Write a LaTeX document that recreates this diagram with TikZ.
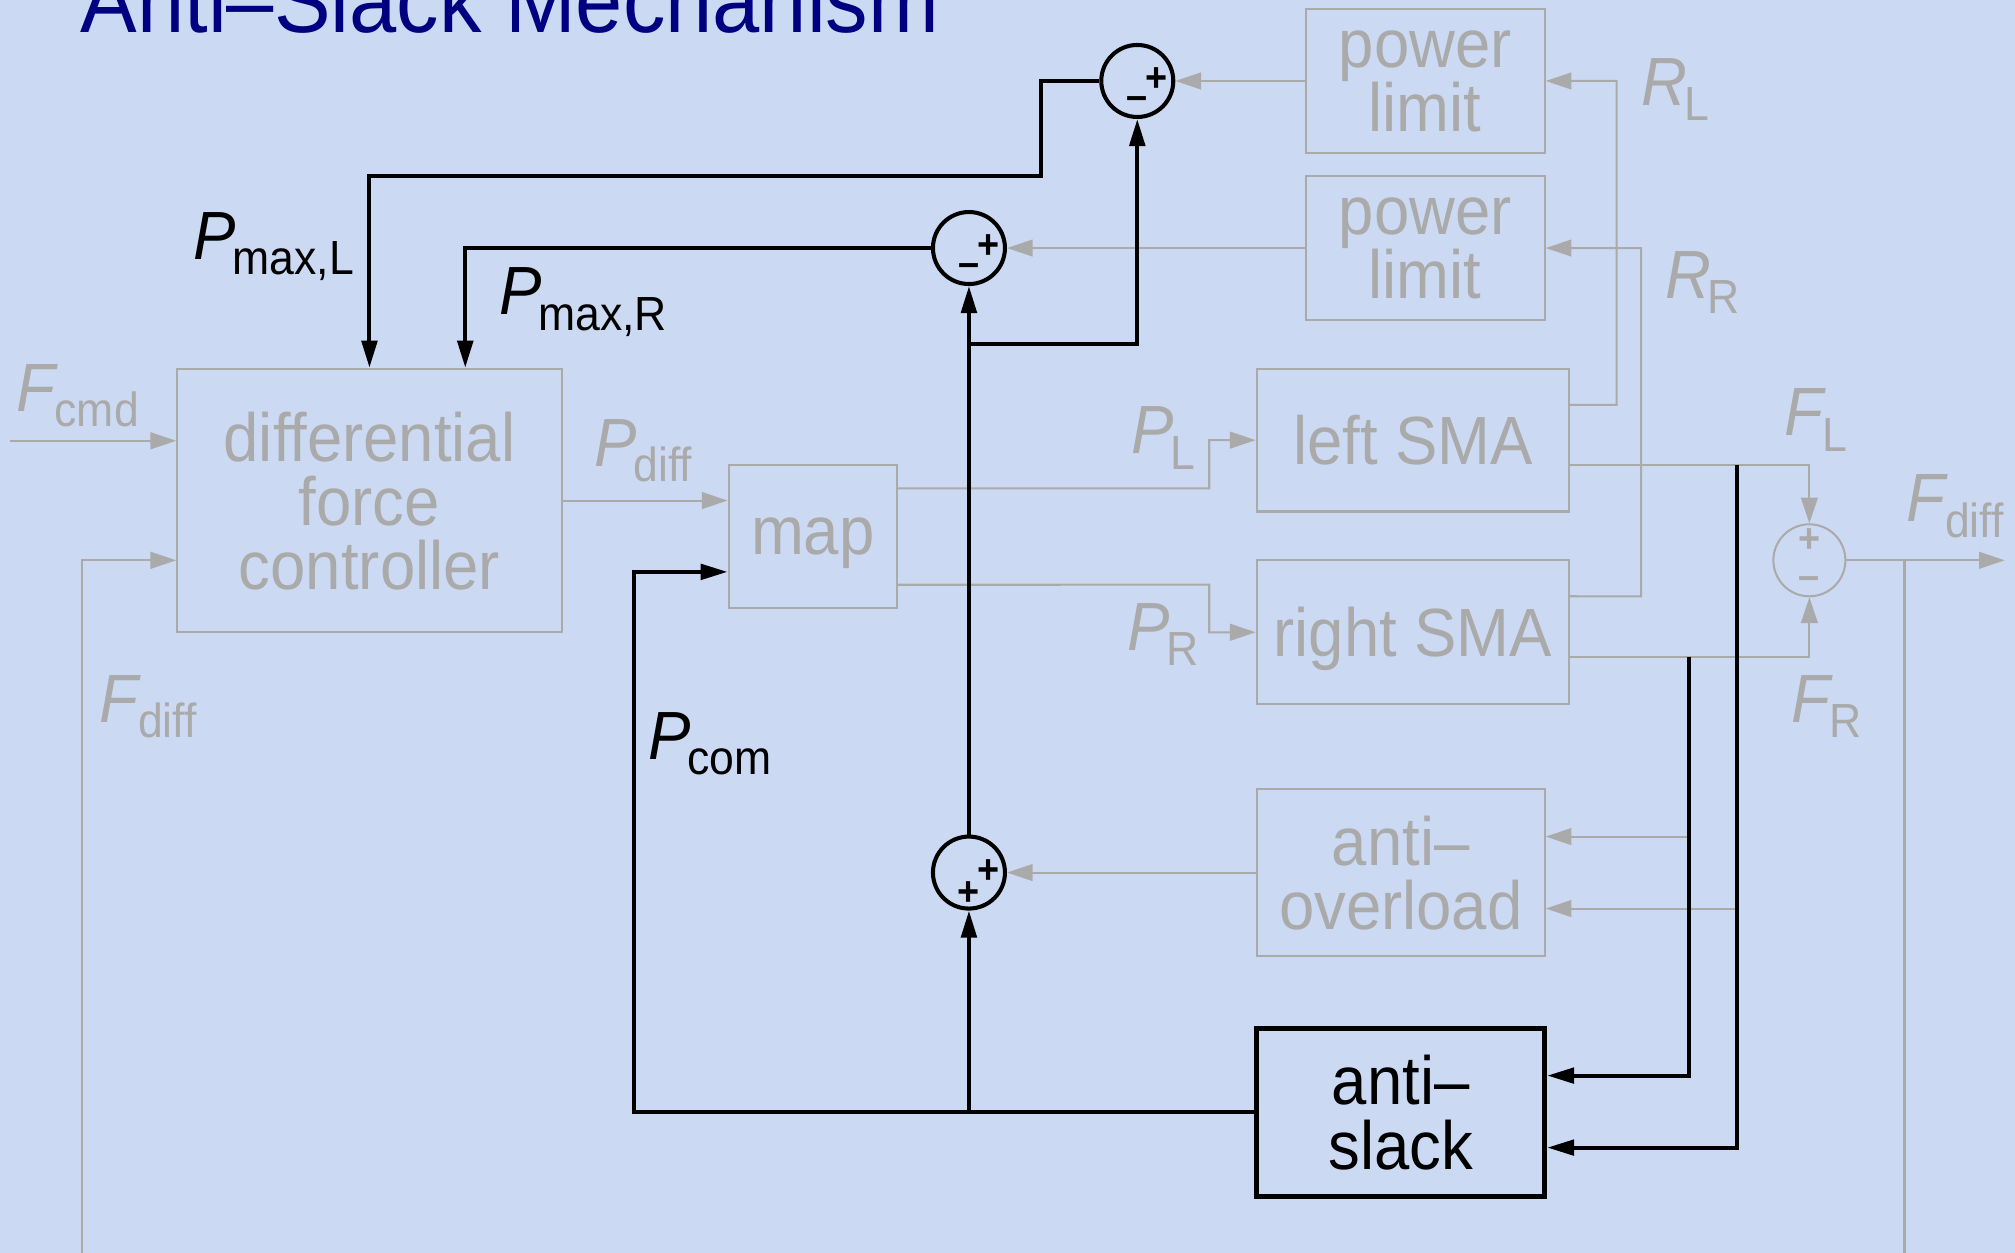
\documentclass[tikz,border=0pt]{standalone}
\usepackage{fontspec}
\setmainfont{Liberation Sans}[FakeStretch=0.93]
\usetikzlibrary{arrows.meta,calc}
\definecolor{bg}{RGB}{203,218,242}
\definecolor{gl}{RGB}{170,170,170}
\definecolor{navy}{RGB}{0,0,128}
\newcommand{\sublab}[2]{\textit{#1}\kern-0.05em\raisebox{-3.4pt}{\fontsize{10.6pt}{10.6pt}\selectfont #2}}
\begin{document}
\begin{tikzpicture}[x=0.01cm,y=-0.01cm,
 txt/.style={font=\fontsize{15.1pt}{14.2pt}\selectfont, align=center, text depth=0pt},
 gbox/.style={draw=gl, text=gl, line width=0.45pt, txt, inner sep=0},
 kbox/.style={draw=black, text=black, line width=1.1pt, txt, inner sep=0},
 sumk/.style={circle, draw=black, line width=0.9pt, minimum size=0.56cm, inner sep=0},
 sumg/.style={circle, draw=gl, line width=0.45pt, minimum size=0.56cm, inner sep=0},
 sgnk/.style={font=\fontsize{9pt}{9pt}\selectfont\bfseries, text=black, inner sep=0},
 sgng/.style={font=\fontsize{9pt}{9pt}\selectfont\bfseries, text=gl, inner sep=0},
 gy/.style={draw=gl, line width=0.45pt},
 gya/.style={gy, -{Triangle[length=0.2cm,width=0.13cm]}},
 bk/.style={draw=black, line width=0.9pt},
 bka/.style={bk, -{Triangle[length=0.21cm,width=0.12cm]}},
 lab/.style={anchor=base west, inner sep=0, font=\fontsize{15.1pt}{15.1pt}\selectfont},
 glab/.style={lab, text=gl},
 klab/.style={lab, text=black},
]
\useasboundingbox (0,0) rectangle (1568,975);
\clip (0,0) rectangle (1568,975);
\fill[bg] (0,0) rectangle (1568,975);

% title
\node[anchor=base west, inner sep=0, text=navy, font=\fontsize{20.2pt}{20.2pt}\selectfont] (title) at (62,25) {Anti–Slack Mechanism};

% boxes
\node[gbox, minimum width=2.99cm, minimum height=2.05cm] (dfc) at (287.5,389.5) {differential\\force\\controller};
\node[gbox, minimum width=1.31cm, minimum height=1.11cm] (map) at (632.5,417.5) {map};
\node[gbox, minimum width=1.86cm, minimum height=1.12cm] (pl1) at (1109,63) {power\\limit};
\node[gbox, minimum width=1.86cm, minimum height=1.12cm] (pl2) at (1109,193) {power\\limit};
\node[gbox, minimum width=2.43cm, minimum height=1.11cm] (lsma) at (1099.5,342.5) {left SMA};
\node[gbox, minimum width=2.43cm, minimum height=1.12cm] (rsma) at (1099.5,492) {right SMA};
\node[gbox, minimum width=2.24cm, minimum height=1.30cm] (ao) at (1090,679) {anti–\\overload};
\node[kbox, minimum width=2.24cm, minimum height=1.31cm] (as) at (1090,865.5) {anti–\\slack};

% summing junctions
\node[sumk] (s1) at (885,63) {};
\node[sumk] (s2) at (754,193) {};
\node[sumk] (s3) at (754,679) {};
\node[sumg] (gs) at (1408,436) {};
\node[sgnk] (s1p) at (900,62) {+};
\node[sgnk] (s1m) at (885,80) {–};
\node[sgnk] (s2p) at (769,192) {+};
\node[sgnk] (s2m) at (754,210) {–};
\node[sgnk] (s3p) at (769,678) {+};
\node[sgnk] (s3q) at (754,695) {+};
\node[sgng] (gsp) at (1408,421) {+};
\node[sgng] (gsm) at (1408,454) {–};

% coordinates
\coordinate (fcmdin) at (8,343);
\coordinate (fbbot) at (64,975);
\coordinate (fbtop) at (64,436);
\coordinate (outend) at (1560,436);
\coordinate (fbr) at (1482,436);
\coordinate (fbrbot) at (1482,975);
\coordinate (brR) at (1314,511);
\coordinate (brL) at (1352,362);
\coordinate (aoR) at (1314,651);
\coordinate (aoL) at (1352,707);
\coordinate (j1) at (754,268);
\coordinate (j2) at (754,865.5);

% gray connectors
\draw[gya] (fcmdin) -- (fcmdin -| dfc.west);
\draw[gya] (fbbot) -- (fbtop) -- (fbtop -| dfc.west);
\draw[gya] (dfc.east) -- (dfc.east -| map.west);
\draw[gya] ([yshift=0.375cm]map.east) -- (941,380) |- (lsma.west);
\draw[gya] ([yshift=-0.375cm]map.east) -- (941,455) |- (rsma.west);
\draw[gya] (pl1.west) -- (s1.east);
\draw[gya] (pl2.west) -- (s2.east);
\draw[gya] (ao.west) -- (s3.east);
\draw[gya] ([yshift=0.275cm]lsma.east) -- (1258,315) |- (pl1.east);
\draw[gya] ([yshift=0.28cm]rsma.east) -- (1277,464) |- (pl2.east);
\draw[gya] ([yshift=-0.195cm]lsma.east) -| (gs.north);
\draw[gya] ([yshift=-0.19cm]rsma.east) -| (gs.south);
\draw[gya] (gs.east) -- (outend);
\draw[gy] (fbr) -- (fbrbot);
\draw[gya] (aoR) -- (aoR -| ao.east);
\draw[gya] (aoL) -- (aoL -| ao.east);

% black connectors
\draw[bka] (s1.west) -- (810,63) -- (810,137) -| (dfc.north);
\draw[bka] (s2.west) -| ([xshift=0.745cm]dfc.north);
\draw[bka] (s3.north) -- (s2.south);
\draw[bka] (j1) -| (s1.south);
\draw[bka] (as.west) -- (493,865.5) |- ([yshift=-0.275cm]map.west);
\draw[bka] (j2) -- (s3.south);
\draw[bka] (brR) |- ([yshift=0.285cm]as.east);
\draw[bka] (brL) |- ([yshift=-0.275cm]as.east);

% labels
\node[klab] (lPmL) at (150,202) {\sublab{P}{max,L}};
\node[klab] (lPmR) at (388,245) {\sublab{P}{max,R}};
\node[klab] (lPcom) at (504,591) {\sublab{P}{com}};
\node[glab] (lFcmd) at (12,320) {\sublab{F}{cmd}};
\node[glab] (lFdl) at (77,562) {\sublab{F}{diff}};
\node[glab] (lPdiff) at (462,363) {\sublab{P}{diff}};
\node[glab] (lPL) at (880,353) {\sublab{P}{L}};
\node[glab] (lPR) at (877,506) {\sublab{P}{R}};
\node[glab] (lFL) at (1388,339) {\sublab{F}{L}};
\node[glab] (lFR) at (1393,562) {\sublab{F}{R}};
\node[glab] (lFdr) at (1483,406) {\sublab{F}{diff}};
\node[glab] (lRL) at (1277,82) {\sublab{R}{L}};
\node[glab] (lRR) at (1295,232) {\sublab{R}{R}};
\end{tikzpicture}
\end{document}
